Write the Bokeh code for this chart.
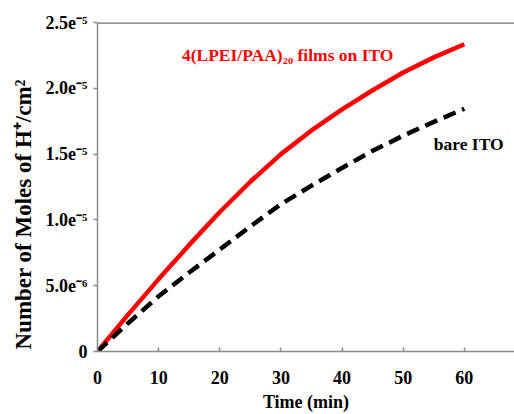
from bokeh.plotting import figure
from bokeh.models import Range1d, FixedTicker, CustomJSTickFormatter, Span, Label, Title
from bokeh.embed import file_html
from bokeh.resources import INLINE

# ---- data ----
time_min = [0, 5, 10, 15, 20, 25, 30, 35, 40, 45, 50, 55, 60]
films_on_ito = [0, 2.8e-6, 5.5e-6, 8.1e-6, 10.6e-6, 12.9e-6, 15.0e-6, 16.8e-6,
                18.4e-6, 19.85e-6, 21.2e-6, 22.35e-6, 23.35e-6]
bare_ito = [0, 2.15e-6, 4.2e-6, 6.0e-6, 7.75e-6, 9.5e-6, 11.2e-6, 12.6e-6,
            13.95e-6, 15.25e-6, 16.4e-6, 17.45e-6, 18.45e-6]
x_ticks = [0, 10, 20, 30, 40, 50, 60]
y_ticks = [0, 5e-6, 1e-5, 1.5e-5, 2e-5, 2.5e-5]
label_films = "4(LPEI/PAA)\u2082\u2080 films on ITO"
label_bare = "bare ITO"
x_title = "Time (min)"
y_title = "Number of Moles of H\u207a/cm\u00b2"

FONT = "Liberation Serif"
AXIS_GREY = "#8c8c8c"

p = figure(width=514, height=414, output_backend="svg", toolbar_location=None,
           x_range=Range1d(0, 68.2), y_range=Range1d(0, 2.5e-5),
           min_border_left=97, min_border_right=0, min_border_top=22, min_border_bottom=0)
p.outline_line_color = None
p.grid.visible = False
p.background_fill_color = "white"
p.border_fill_color = "white"

# top border line
p.add_layout(Span(location=y_ticks[-1], dimension="width", line_color="#707070", line_width=2.5))

p.line(time_min, films_on_ito, line_color="#ff0000", line_width=4.5)
p.line(time_min, bare_ito, line_color="black", line_width=4.5, line_dash="13 7")

# axes
p.xaxis.ticker = FixedTicker(ticks=x_ticks)
p.yaxis.ticker = FixedTicker(ticks=y_ticks)
p.yaxis.formatter = CustomJSTickFormatter(code="""
if (Math.abs(tick) < 1e-12) return "0";
const e = Math.floor(Math.log10(Math.abs(tick)) + 1e-9);
const m = tick / Math.pow(10, e);
const sup = {"-":"\u207b","0":"\u2070","1":"\u00b9","2":"\u00b2","3":"\u00b3","4":"\u2074","5":"\u2075","6":"\u2076","7":"\u2077","8":"\u2078","9":"\u2079"};
return m.toFixed(1) + "e" + String(e).split("").map(c => sup[c]).join("");
""")

for ax in (p.xaxis[0], p.yaxis[0]):
    ax.axis_line_color = AXIS_GREY
    ax.axis_line_width = 1.5
    ax.major_tick_line_color = AXIS_GREY
    ax.major_tick_line_width = 1.5
    ax.minor_tick_line_color = None
    ax.major_label_text_font = FONT
    ax.major_label_text_font_style = "bold"
    ax.major_label_text_font_size = "18px"
    ax.major_label_text_color = "black"
    ax.axis_label_text_font = FONT
    ax.axis_label_text_font_style = "bold"
    ax.axis_label_text_color = "black"

p.xaxis.axis_label_text_font_size = "18px"

p.xaxis.major_tick_in = 4
p.xaxis.major_tick_out = 0
p.xaxis.major_label_standoff = 19
p.xaxis.axis_label = x_title
p.xaxis.axis_label_standoff = 5

p.yaxis.major_tick_in = 0
p.yaxis.major_tick_out = 4
p.yaxis.major_label_standoff = 6

# y-axis title as a left-side title (sits lower than the frame centre in the reference)
p.add_layout(Title(text=y_title, align="left", offset=2, standoff=14,
                   text_font=FONT, text_font_style="bold", text_font_size="23px",
                   text_color="black"), "left")

p.add_layout(Label(x=13.8, y=2.255e-5, text=label_films, text_font=FONT, text_font_style="bold",
                   text_font_size="17.5px", text_color="#ff0000", text_baseline="middle"))
p.add_layout(Label(x=55.0, y=1.58e-5, text=label_bare, text_font=FONT, text_font_style="bold",
                   text_font_size="17.5px", text_color="black", text_baseline="middle"))

open("out.html", "w").write(file_html(p, INLINE))
